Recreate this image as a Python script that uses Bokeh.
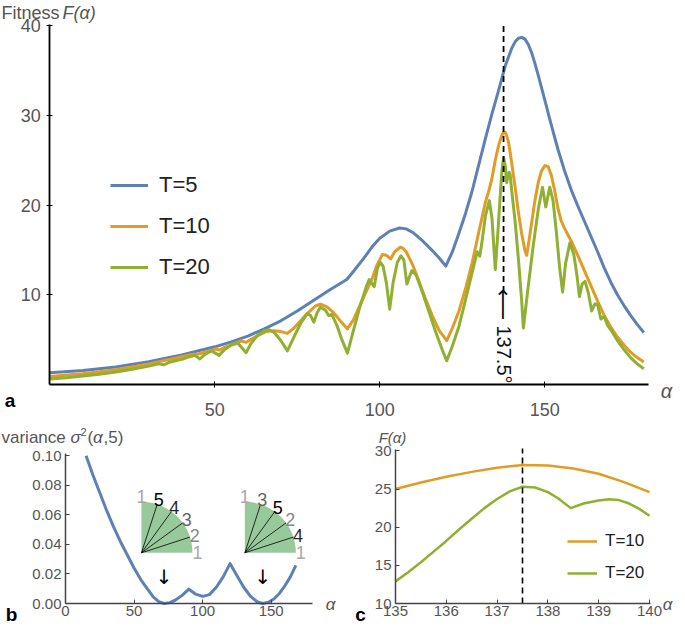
import math
from bokeh.plotting import figure
from bokeh.layouts import column, row
from bokeh.models import FixedTicker, Label, Legend, LegendItem, PrintfTickFormatter
from bokeh.core.properties import value
from bokeh.embed import file_html
from bokeh.resources import INLINE

FONT = "Liberation Sans"
ARROW_FONT = "DejaVu Sans"
BLUE, ORANGE, GREEN = "#5E81B5", "#E19C24", "#8FB032"
TICK_COLOR = "#555555"

# ---------------- Panel a data: fitness F(alpha) ----------------
alpha_T5 = [0, 10, 20, 30, 40, 50, 55, 60, 65, 70, 75, 80, 85, 90, 92, 95, 98, 100, 103, 106,
            108, 110, 113, 116, 118, 120, 122, 124, 126, 128, 130, 132, 134, 136, 138, 140, 141, 142, 143, 144,
            145, 146, 147, 148, 150, 152, 154, 156, 158, 160, 162, 164, 166, 168, 170, 172, 174, 176, 178, 180]
F_T5 = [1.3, 1.55, 1.95, 2.55, 3.3, 4.2, 4.75, 5.4, 6.2, 7.1, 8.2, 9.4, 10.6, 11.7, 12.6, 14.0, 15.5, 16.3, 17.1, 17.45,
        17.35, 16.95, 16.0, 14.9, 14.1, 13.2, 14.8, 16.9, 19.1, 21.6, 24.5, 27.4, 30.2, 32.8, 35.5, 37.5, 38.2, 38.6, 38.7, 38.5,
        37.9, 37.0, 35.8, 34.5, 31.7, 28.9, 26.2, 23.8, 21.7, 19.9, 18.2, 16.5, 14.8, 13.0, 11.4, 10.0, 8.8, 7.7, 6.7, 5.8]

alpha_T10 = [0, 10, 20, 30, 40, 43, 45, 47, 50, 51.5, 53, 55, 58, 59.5, 61, 63, 65.5, 68, 70, 72,
             74, 76, 78, 80.5, 82, 84, 86, 88, 90.2, 92, 94.8, 97.8, 99, 100.8, 102, 103.3, 104.5, 106.2, 107, 108,
             110, 112, 114, 116, 118, 120.3, 122, 124, 126, 128, 130, 132, 133.2, 134, 135, 135.5, 136, 136.5, 137, 137.5,
             138, 138.5, 139, 139.5, 140, 141, 142, 143, 144, 144.5, 145, 146, 147, 148, 149, 150, 151, 152, 153, 154,
             155, 156, 157, 158, 160, 162, 164, 166, 168, 170, 172, 174, 176, 178, 180]
F_T10 = [0.9, 1.2, 1.65, 2.3, 3.1, 3.35, 3.4, 3.6, 3.95, 3.85, 4.15, 4.45, 4.85, 4.7, 5.05, 5.45, 5.9, 6.0, 5.9, 5.7,
         6.3, 7.1, 7.9, 8.75, 8.95, 8.65, 8.0, 7.1, 6.2, 7.2, 9.5, 11.9, 13.2, 14.5, 14.4, 14.0, 14.8, 15.3, 15.2, 14.8,
         13.3, 11.4, 9.4, 7.6, 6.0, 4.9, 6.3, 8.2, 10.7, 13.6, 17.0, 20.3, 21.8, 23.0, 25.0, 25.85, 26.6, 27.25, 27.8, 28.15,
         28.1, 27.7, 27.0, 25.9, 24.6, 22.0, 19.2, 16.8, 14.9, 14.4, 15.5, 18.0, 20.5, 22.5, 23.8, 24.4, 24.3, 23.3, 21.6, 19.6,
         18.2, 17.4, 16.7, 16.0, 14.4, 12.7, 11.0, 9.3, 7.7, 6.4, 5.3, 4.4, 3.6, 3.0, 2.5]

alpha_T20 = [0, 5, 10, 15, 20, 25, 30, 33, 34.5, 36, 38, 40, 42, 44, 45.5, 47, 49, 51.3, 53, 55,
             57, 59.5, 61, 63, 65, 66.5, 68, 70, 72, 74, 76, 78, 79, 80, 81, 82, 83.5, 84.5, 85.5, 87,
             88.5, 90.2, 92, 94, 96, 96.8, 98.3, 99.3, 100.2, 101, 102, 103, 104, 105.3, 106.4, 107.3, 108.2, 109.7, 111, 113,
             115, 117, 119, 120.3, 122, 124, 126, 128, 129.5, 130.3, 131, 132, 133.2, 134, 135, 135.5, 136, 136.5, 137, 137.5,
             138, 138.45, 139, 139.2, 139.5, 140, 141, 142, 143, 143.5, 145, 146.5, 148, 149.3, 150.3, 151.5, 152.5, 153.5, 154.5, 155.4,
             156.3, 157.6, 158.8, 159.8, 160.5, 161.3, 162.2, 163.2, 164.2, 165.2, 166, 167, 168, 169, 170, 172, 174, 176, 178, 180]
F_T20 = [0.6, 0.75, 0.95, 1.15, 1.4, 1.7, 2.05, 2.3, 2.2, 2.45, 2.65, 2.8, 3.05, 3.25, 2.85, 3.35, 3.75, 3.25, 3.9, 4.4,
         4.6, 3.55, 4.6, 5.5, 6.0, 6.1, 5.8, 4.9, 3.75, 5.3, 6.8, 7.9, 7.7, 6.95, 8.0, 8.6, 8.3, 7.7, 7.8, 6.6,
         5.0, 3.5, 6.0, 8.7, 11.0, 11.7, 10.9, 13.0, 13.6, 13.2, 11.3, 8.4, 11.3, 13.6, 14.35, 13.9, 11.2, 12.7, 12.2, 10.2,
         8.0, 5.8, 3.8, 2.64, 4.3, 6.5, 9.5, 12.5, 14.8, 14.3, 16.0, 18.8, 20.5, 18.5, 12.8, 15.4, 18.2, 21.1, 23.8, 25.3,
         24.4, 22.5, 23.5, 23.65, 23.4, 21.5, 18.2, 14.0, 9.3, 6.3, 11.0, 15.5, 19.5, 22.0, 19.8, 22.0, 20.5, 17.0, 13.0, 10.3,
         13.5, 15.8, 14.5, 12.0, 9.8, 11.2, 11.5, 10.2, 8.2, 9.0, 8.9, 7.3, 7.6, 6.6, 6.1, 4.9, 3.9, 3.0, 2.3, 1.75]

golden_angle = 137.5
dash_bottom = 10.3

# ---------------- Panel b data: variance sigma^2(alpha,5) ----------------
alpha_var = [15, 20, 25, 30, 35, 40, 45, 50, 55, 60, 64, 68, 72, 76, 80, 85, 90, 95, 100, 105,
             110, 115, 120, 125, 130, 135, 140, 144, 148, 152, 156, 160, 164, 168]
var_5 = [0.100, 0.087, 0.075, 0.063, 0.052, 0.042, 0.033, 0.024, 0.016, 0.0095, 0.0045, 0.0012, 0.0, 0.0006, 0.0022, 0.0055, 0.0097, 0.0063, 0.0048, 0.0060,
         0.0110, 0.0180, 0.027, 0.019, 0.011, 0.0048, 0.0010, 0.0, 0.0008, 0.003, 0.0068, 0.012, 0.018, 0.0258]
fan_center_alpha = [55.4, 130.8]
fan_center_var = 0.0343
fan_angles_deg = [18, 36, 54, 72]
fan_label_angles = [90, 72, 54, 36, 18, 0]
fan1_labels = ["1", "5", "4", "3", "2", "1"]
fan2_labels = ["1", "3", "5", "2", "4", "1"]
minima_alpha = [72, 144]
arrow_var = 0.018

# ---------------- Panel c data: zoom 135..140 ----------------
alpha_c10 = [135, 135.5, 136, 136.5, 137, 137.5, 138, 138.5, 139, 139.5, 140]
F_c10 = [25.0, 25.85, 26.6, 27.25, 27.8, 28.15, 28.1, 27.7, 27.0, 25.9, 24.6]
alpha_c20 = [135, 135.25, 135.5, 135.75, 136, 136.25, 136.5, 136.75, 137, 137.25, 137.5, 137.75, 138, 138.2, 138.45,
             138.7, 139, 139.2, 139.4, 139.6, 139.8, 140]
F_c20 = [12.9, 14.1, 15.4, 16.8, 18.2, 19.7, 21.1, 22.5, 23.7, 24.7, 25.3, 25.2, 24.6, 23.8, 22.5,
         23.1, 23.5, 23.65, 23.55, 23.1, 22.4, 21.5]


# ---------------- layout helpers (page pixel -> data, for text placement) ----------------
class Panel:
    def __init__(self, left, top, w, h, x0_px, x_per, xv0, y0_px, y_per, yv0):
        self.left, self.top, self.w, self.h = left, top, w, h
        self.x0_px, self.x_per, self.xv0 = x0_px, x_per, xv0
        self.y0_px, self.y_per, self.yv0 = y0_px, y_per, yv0

    def dx(self, px):
        return self.xv0 + (px - self.x0_px) / self.x_per

    def dy(self, py):
        return self.yv0 + (self.y0_px - py) / self.y_per

    def xr(self):
        return (self.dx(self.left), self.dx(self.left + self.w))

    def yr(self):
        return (self.dy(self.top + self.h), self.dy(self.top))


A = Panel(8, 8, 677, 424, 57.3, 3.3, 0.0, 392.0, 8.97, 0.0)
B = Panel(8, 432, 352, 202, 73.0, 1.371, 0.0, 611.0, 1477.0, 0.0)
C = Panel(360, 432, 325, 202, 403.0, 50.8, 135.0, 611.0, 7.63, 10.0)


def make_fig(P):
    p = figure(width=P.w, height=P.h, x_range=P.xr(), y_range=P.yr(), output_backend="svg",
               toolbar_location=None, title=None, min_border=0,
               min_border_left=0, min_border_right=0, min_border_top=0, min_border_bottom=0)
    p.grid.visible = False
    p.outline_line_color = None
    p.background_fill_color = "white"
    p.border_fill_color = "white"
    return p


def style(p, size, color, width, tin, tout, xstand, ystand, xticks, yticks, xloc, yloc, xb, yb):
    p.xaxis.ticker = FixedTicker(ticks=xticks)
    p.yaxis.ticker = FixedTicker(ticks=yticks)
    p.xaxis.fixed_location = xloc
    p.yaxis.fixed_location = yloc
    p.xaxis.bounds = xb
    p.yaxis.bounds = yb
    for ax in p.axis:
        ax.axis_line_color = color
        ax.axis_line_width = width
        ax.major_tick_line_color = color
        ax.major_tick_line_width = 1
        ax.major_tick_in = tin
        ax.major_tick_out = tout
        ax.minor_tick_line_color = None
        ax.major_label_text_font = FONT
        ax.major_label_text_font_size = size
        ax.major_label_text_color = TICK_COLOR
    p.xaxis.major_label_standoff = xstand
    p.yaxis.major_label_standoff = ystand


def label(p, P, px, py, text, size, color=TICK_COLOR, fstyle="normal", align="left", font=FONT, angle=0.0):
    p.add_layout(Label(x=P.dx(px), y=P.dy(py), text=text, text_font=font,
                       text_font_size=size, text_color=color, text_font_style=fstyle,
                       text_align=align, text_baseline="middle", angle=angle))


# ================= Panel a =================
pa = make_fig(A)
style(pa, "18px", "black", 1.8, 3, 3, 15, 6, [50, 100, 150], [10, 20, 30, 40], 0, 0, (0, 181.4), (0, 40.15))
r5 = pa.line(alpha_T5, F_T5, line_color=BLUE, line_width=3, line_join="round")
r10 = pa.line(alpha_T10, F_T10, line_color=ORANGE, line_width=3, line_join="round")
r20 = pa.line(alpha_T20, F_T20, line_color=GREEN, line_width=3, line_join="round")
pa.line([golden_angle, golden_angle], [dash_bottom, 40.15], line_color="black", line_width=1.8, line_dash="6 4")
pa.add_layout(Label(x=golden_angle, y=A.dy(312), text="\u27f5", angle=-math.pi / 2,
                    text_font=ARROW_FONT, text_font_size="22px", text_color="#111111",
                    text_align="center", text_baseline="middle"))
pa.add_layout(Label(x=golden_angle, y=A.dy(362), text="137.5\u00b0", angle=-math.pi / 2,
                    text_font=FONT, text_font_size="20px", text_color="#111111",
                    text_align="center", text_baseline="middle"))
leg_a = Legend(items=[LegendItem(label="T=5", renderers=[r5]),
                      LegendItem(label="T=10", renderers=[r10]),
                      LegendItem(label="T=20", renderers=[r20])],
               location=(118 - A.left, A.top + A.h - 288), orientation="vertical", padding=0, margin=0, spacing=15,
               glyph_width=38, glyph_height=26, label_height=26, label_standoff=11,
               label_text_font=FONT, label_text_font_size="22px", label_text_color="#222222",
               background_fill_alpha=0, border_line_color=None)
pa.add_layout(leg_a)
label(pa, A, 9, 20, "Fitness", "18px")
label(pa, A, 70, 20, "F(\u03b1)", "18px", fstyle="italic")
label(pa, A, 674, 398, "\u03b1", "20px", fstyle="italic", align="center")
label(pa, A, 17.5, 408, "a", "19px", color="black", fstyle="bold", align="center")

# ================= Panel b =================
pb = make_fig(B)
style(pb, "15px", "#444444", 1.5, 4, 0, 2, 4, [0, 50, 100, 150], [0.0, 0.02, 0.04, 0.06, 0.08, 0.10],
      0, 0, (0, 180.2), (0, 0.1015))
pb.yaxis.formatter = PrintfTickFormatter(format="%.2f")
pb.line(alpha_var, var_5, line_color=BLUE, line_width=3, line_join="round")
shade = {"1": "#a8a8a8", "2": "#888888", "3": "#666666", "4": "#2a2a2a", "5": "#000000"}
for k, ca in enumerate(fan_center_alpha):
    pb.wedge(x=[ca], y=[fan_center_var], radius=51, radius_units="screen", start_angle=0,
             end_angle=math.pi / 2, fill_color="#98C99A", line_color=None)
    pb.ray(x=[ca] * len(fan_angles_deg), y=[fan_center_var] * len(fan_angles_deg), length=51,
           length_units="screen", angle=[math.radians(a) for a in fan_angles_deg],
           line_color="black", line_width=0.8)
    labs = fan1_labels if k == 0 else fan2_labels
    pb.text(x=[ca] * len(labs), y=[fan_center_var] * len(labs), text=labs,
            x_offset=[56 * math.cos(math.radians(a)) for a in fan_label_angles],
            y_offset=[-56 * math.sin(math.radians(a)) for a in fan_label_angles],
            text_color=[shade[t] for t in labs], text_font=value(FONT), text_font_size="18px",
            text_align="center", text_baseline="middle")
pb.text(x=minima_alpha, y=[arrow_var] * len(minima_alpha), text=["\u2193"] * len(minima_alpha),
        text_font=value(ARROW_FONT), text_font_size="20px", text_color="black",
        text_align="center", text_baseline="middle")
label(pb, B, 9, 445, "variance", "17px")
label(pb, B, 78, 445, "\u03c3", "17px", fstyle="italic")
label(pb, B, 88, 439, "2", "11px")
label(pb, B, 95, 445, "(", "17px")
label(pb, B, 100.5, 445, "\u03b1", "17px", fstyle="italic")
label(pb, B, 111, 445, ",5)", "17px")
label(pb, B, 338, 612, "\u03b1", "17px", fstyle="italic", align="center")
label(pb, B, 19, 622, "b", "19px", color="black", fstyle="bold", align="center")

# ================= Panel c =================
pc = make_fig(C)
style(pc, "15px", "#444444", 1.5, 4, 0, 2, 4, [135, 136, 137, 138, 139, 140], [10, 15, 20, 25, 30],
      10, 135, (135, 140.02), (10, 30.2))
c10 = pc.line(alpha_c10, F_c10, line_color=ORANGE, line_width=2.5, line_join="round")
c20 = pc.line(alpha_c20, F_c20, line_color=GREEN, line_width=2.5, line_join="round")
pc.line([golden_angle, golden_angle], [10, 30.3], line_color="black", line_width=1.6, line_dash="6 4")
leg_c = Legend(items=[LegendItem(label="T=10", renderers=[c10]),
                      LegendItem(label="T=20", renderers=[c20])],
               location=(575 - C.left, C.top + C.h - 592), orientation="vertical", padding=0, margin=0, spacing=10,
               glyph_width=30, glyph_height=22, label_height=22, label_standoff=8,
               label_text_font=FONT, label_text_font_size="17px", label_text_color="#222222",
               background_fill_alpha=0, border_line_color=None)
pc.add_layout(leg_c)
label(pc, C, 400, 445, "F(\u03b1)", "15px", fstyle="italic", align="center")
label(pc, C, 675, 612, "\u03b1", "17px", fstyle="italic", align="center")
label(pc, C, 368, 622, "c", "19px", color="black", fstyle="bold", align="center")

layout = column(pa, row(pb, pc))
open("out.html", "w").write(file_html(layout, INLINE))
